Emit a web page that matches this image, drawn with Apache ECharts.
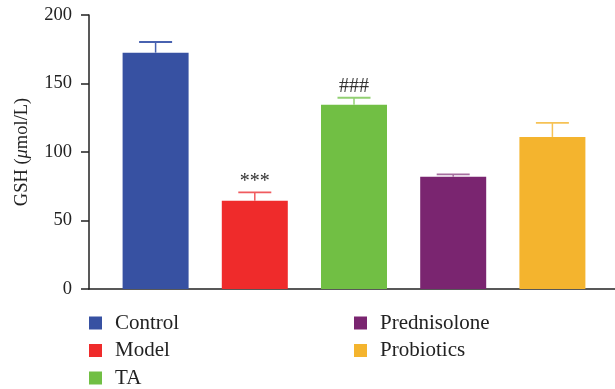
<!DOCTYPE html>
<html>
<head>
<meta charset="utf-8">
<script src="https://cdn.jsdelivr.net/npm/echarts@6/dist/echarts.min.js"></script>
<style>html,body{margin:0;padding:0;background:#fff}#c{width:615px;height:389px}</style>
</head>
<body>
<div id="c"></div>
<script>
const categories = ['Control', 'Model', 'TA', 'Prednisolone', 'Probiotics'];
const means = [172.5, 64.5, 134.5, 82, 111];
const errUpper = [180.3, 70.5, 139.6, 83.6, 121.2];
const marks = ['', '***', '###', '', ''];
const yTicks = [0, 50, 100, 150, 200];

const barColors = ['#3751A2', '#EF2B2B', '#71BF44', '#7A2570', '#F4B42E'];
const errColors = ['#4862B0', '#F05A5E', '#92D073', '#A56D9E', '#F6C255'];
const FONT = '"Liberation Serif", "DejaVu Serif", serif';

// legend placement (column, row) for each category
const legendCol = [0, 0, 0, 1, 1];
const legendRow = [0, 1, 2, 0, 1];

const barSeries = categories.map((name, i) => ({
  name: name,
  type: 'bar',
  xAxisIndex: 1,
  yAxisIndex: 1,
  barWidth: 66,
  barGap: '-100%',
  itemStyle: { color: barColors[i] },
  data: categories.map((c, j) => (j === i ? means[i] : '-'))
}));

const errSeries = {
  type: 'custom',
  xAxisIndex: 1,
  yAxisIndex: 1,
  z: 3,
  data: categories.map((c, i) => [i, means[i], errUpper[i]]),
  renderItem: function (params, api) {
    const i = api.value(0);
    const p0 = api.coord([i, api.value(1)]);
    const p1 = api.coord([i, api.value(2)]);
    const col = errColors[i];
    const children = [
      { type: 'line', shape: { x1: p0[0], y1: p0[1], x2: p1[0], y2: p1[1] }, style: { stroke: col, lineWidth: 1.5 } },
      { type: 'line', shape: { x1: p1[0] - 16.5, y1: p1[1], x2: p1[0] + 16.5, y2: p1[1] }, style: { stroke: col, lineWidth: 1.8 } }
    ];
    if (marks[i]) {
      children.push({
        type: 'text',
        style: {
          x: p1[0], y: p1[1] - 1, text: marks[i],
          textAlign: 'center', textVerticalAlign: 'bottom',
          fill: '#333', font: '20px ' + FONT
        }
      });
    }
    return { type: 'group', children: children };
  }
};

const legends = categories.map((name, i) => ({
  data: [name], orient: 'horizontal', padding: 0,
  left: legendCol[i] === 0 ? 89 : 354,
  top: 312.5 + legendRow[i] * 27.5,
  itemWidth: 13, itemHeight: 13, icon: 'rect',
  textStyle: { fontFamily: FONT, fontSize: 21, color: '#222', padding: [0, 0, 0, 8] }
}));

const chart = echarts.init(document.getElementById('c'));
chart.setOption({
  animation: false,
  backgroundColor: '#fff',
  grid: [
    { left: 89, right: 0, top: 15, bottom: 100, outerBoundsMode: 'none', containLabel: false },
    { left: 106, right: 13, top: 15, bottom: 100, outerBoundsMode: 'none', containLabel: false }
  ],
  xAxis: [
    { type: 'category', gridIndex: 0, data: [''], axisLine: { lineStyle: { color: '#222', width: 1.5 } }, axisTick: { show: false }, axisLabel: { show: false } },
    { type: 'category', gridIndex: 1, data: categories, show: false }
  ],
  yAxis: [
    {
      type: 'value', gridIndex: 0, min: yTicks[0], max: yTicks[yTicks.length - 1], interval: 50,
      name: '{n|GSH (}{i|μ}{n|mol/L)}', nameLocation: 'middle', nameGap: 57, nameRotate: 90,
      nameTextStyle: { rich: { n: { fontFamily: FONT, fontSize: 18.5, color: '#222' }, i: { fontFamily: FONT, fontSize: 18.5, fontStyle: 'italic', color: '#222' } } },
      axisLine: { show: true, lineStyle: { color: '#222', width: 1.5 } },
      axisTick: { show: true, length: 8, lineStyle: { color: '#222', width: 1.5 } },
      axisLabel: { margin: 17, fontFamily: FONT, fontSize: 18.5, color: '#222' },
      splitLine: { show: false }
    },
    { type: 'value', gridIndex: 1, min: yTicks[0], max: yTicks[yTicks.length - 1], interval: 50, show: false, splitLine: { show: false } }
  ],
  legend: legends,
  series: barSeries.concat([errSeries])
});
</script>
</body>
</html>
